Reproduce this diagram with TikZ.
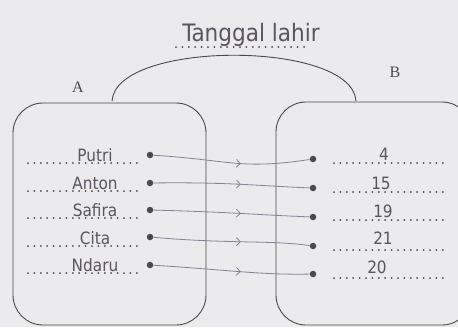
\documentclass[tikz,border=0pt]{standalone}
\usepackage{fontspec}
\newfontfamily\hand{DejaVu Sans Condensed}
\setmainfont{Liberation Serif}
\usetikzlibrary{decorations.markings}
\definecolor{bg}{HTML}{EBEAEC}
\definecolor{ink}{HTML}{4A4A4A}
\definecolor{pen}{HTML}{5A5560}
\definecolor{arr}{HTML}{8A7F90}
\tikzset{
  setbox/.style={draw=ink, line width=0.9pt, rounded corners=30pt},
  dotline/.style={ink, line width=2pt, dash pattern=on 0pt off 6.4pt, line cap=round},
  elem/.style={circle, fill=ink, inner sep=0pt, minimum size=6.5pt},
  handtxt/.style={text=pen, font=\hand\fontsize{17}{17}\selectfont, inner sep=0pt, anchor=base},
  maparrow/.style={arr, line width=0.8pt, decoration={markings, mark=at position 0.55 with {\draw[arr, line width=0.8pt] (-3pt,4pt) -- (1pt,0) -- (-3pt,-4pt);}}, postaction={decorate}}
}
\begin{document}
\begin{tikzpicture}[x=1pt,y=-1pt]
\fill[bg] (0,0) rectangle (458,327);
\useasboundingbox (0,0) rectangle (458,327);
% title
\node[handtxt, font=\hand\fontsize{24}{24}\selectfont] (title) at (251,41) {Tanggal lahir};
\draw[dotline] (176,47) -- (305,47);
% arc
\draw[ink, line width=0.9pt] (112,101) .. controls (116,40) and (352,40) .. (356,101);
% set labels
\node[text=ink, font=\fontsize{16}{16}\selectfont] (A) at (78,87) {A};
\node[text=ink, font=\fontsize{16}{16}\selectfont] (B) at (395,72) {B};
% boxes
\draw[setbox] (13,103) rectangle (206,325);
\draw[setbox] (276,102) rectangle (472,325);
% left elements
\foreach \n/\y/\t in {1/163/Putri,2/191/Anton,3/218/Safira,4/246/Cita,5/273/Ndaru}{
  \draw[dotline] (28,\y) -- (142,\y);
  \node[handtxt] (l\n) at (95,\y-2) {\t};
}
\node[elem] (p1) at (150,155) {};
\node[elem] (p2) at (150,183) {};
\node[elem] (p3) at (150,210) {};
\node[elem] (p4) at (150,237) {};
\node[elem] (p5) at (150,265) {};
% right elements
\foreach \y in {163,192,220,250,278}{
  \draw[dotline] (334,\y) -- (446,\y);
}
\node[handtxt] (n1) at (384,160) {4};
\node[handtxt] (n2) at (381,189) {15};
\node[handtxt] (n3) at (383,217) {19};
\node[handtxt] (n4) at (383,244) {21};
\node[handtxt] (n5) at (377,273) {20};
\node[elem] (q1) at (313,159) {};
\node[elem] (q2) at (313,188) {};
\node[elem] (q3) at (313,217) {};
\node[elem] (q4) at (313,246) {};
\node[elem] (q5) at (313,274) {};
% mappings
\draw[maparrow] (p1) .. controls (230,160) and (240,170) .. (q1);
\draw[maparrow] (p2) .. controls (230,182) and (260,186) .. (q2);
\draw[maparrow] (p3) .. controls (230,212) and (260,215) .. (q3);
\draw[maparrow] (p4) .. controls (230,244) and (270,240) .. (q4);
\draw[maparrow] (p5) .. controls (230,270) and (260,275) .. (q5);
\end{tikzpicture}
\end{document}
